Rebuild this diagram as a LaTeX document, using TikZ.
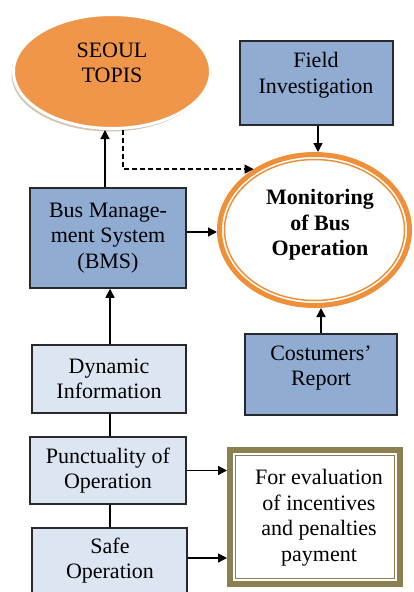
\documentclass[tikz,border=0pt]{standalone}
\usepackage{fontspec}
\setmainfont{Liberation Serif}
\usetikzlibrary{arrows.meta,shapes.geometric,shadows,calc}
\definecolor{orangeF}{RGB}{240,150,75}
\definecolor{orangeB}{RGB}{238,144,58}
\definecolor{blueF}{RGB}{144,172,210}
\definecolor{lblueF}{RGB}{220,230,242}
\definecolor{oliveB}{RGB}{140,128,80}
\definecolor{edge}{RGB}{40,40,45}
\tikzset{
  txt/.style={align=center,inner sep=0pt,font=\fontsize{22}{25.5}\selectfont},
  dbox/.style={draw=edge,line width=1.5pt,fill=blueF,inner sep=0pt},
  lbox/.style={draw=edge,line width=1.5pt,fill=lblueF,inner sep=0pt,align=center,font=\fontsize{22}{25.5}\selectfont},
  arr/.style={line width=1.4pt,draw=black,-{Triangle[length=9pt,width=9pt]}},
  ln/.style={line width=1.4pt,draw=black},
}
\begin{document}
\begin{tikzpicture}[x=1pt,y=-1pt]
\clip (0,0) rectangle (414,592);
\fill[white] (0,0) rectangle (414,592);
% SEOUL TOPIS
\node[ellipse,draw=white,line width=3pt,fill=orangeF,minimum width=197pt,minimum height=114pt,inner sep=0pt,
  drop shadow={shadow xshift=-2pt,shadow yshift=-3pt,opacity=0.35,fill=brown!70!black}] (seoul) at (112,71.5) {};
\node[txt] (seoultxt) at (112,63) {SEOUL\\TOPIS};
% Field investigation
\node[dbox,minimum width=153pt,minimum height=84pt] (field) at (316.5,83) {};
\node[txt] (fieldtxt) at (316,75) {Field\\Investigation};
% Monitoring
\node[ellipse,draw=orangeB,line width=5pt,fill=white,minimum width=190pt,minimum height=151pt,inner sep=0pt] (mon) at (314.5,230) {};
\node[ellipse,draw=orangeB,line width=1.5pt,minimum width=180pt,minimum height=141pt,inner sep=0pt] (monin) at (mon.center) {};
\node[txt,font=\fontsize{22}{25.5}\selectfont\bfseries] (montxt) at (320,225) {Monitoring\\of Bus\\Operation};
% BMS
\node[dbox,minimum width=156pt,minimum height=100pt,align=center,font=\fontsize{22}{25.5}\selectfont] (bms) at (108,238) {Bus Manage-\\ment System\\(BMS)};
% Dynamic information
\node[lbox,minimum width=154pt,minimum height=68pt] (dyn) at (109,379) {Dynamic\\Information};
% Costumers report
\node[dbox,minimum width=152pt,minimum height=81pt] (cost) at (321,374.5) {};
\node[txt] (costtxt) at (321,368) {Costumers'\\Report};
% Punctuality
\node[lbox,minimum width=156pt,minimum height=67pt] (punc) at (108,470.5) {Punctuality of\\Operation};
% Safe operation
\node[lbox,minimum width=155pt,minimum height=72pt] (safe) at (109.5,564) {};
\node[txt] (safetxt) at (110,560.5) {Safe\\Operation};
% Evaluation
\node[draw=oliveB,line width=6pt,fill=white,minimum width=170pt,minimum height=134pt,inner sep=0pt] (ev) at (315,517) {};
\draw[oliveB,line width=1.2pt] ($(ev.north west)+(8.5,8.5)$) rectangle ($(ev.south east)+(-8.5,-8.5)$);
\node[txt] (evtxt) at (319,517.5) {For evaluation\\of incentives\\and penalties\\payment};
% connectors
\draw[arr] ([xshift=-3pt]bms.north) -- ([xshift=-3pt]bms.north |- seoul.south);
\draw[arr,dash pattern=on 5pt off 3pt] ([xshift=11pt]seoul.south) |- (mon.135);
\draw[arr] ([xshift=1.5pt]field.south) -- ([xshift=1.5pt]field.south |- mon.north);
\draw[arr] ([yshift=6pt]bms.east) -- ([yshift=6pt]bms.east -| mon.west);
\draw[arr] ([xshift=1pt]dyn.north) -- ([xshift=1pt]dyn.north |- bms.south);
\draw[arr] (cost.north) -- (cost.north |- mon.south);
\draw[ln] ([xshift=1pt]dyn.south) -- ([xshift=1pt]dyn.south |- punc.north);
\draw[ln] ([xshift=2pt]punc.south) -- ([xshift=2pt]punc.south |- safe.north);
\draw[arr] (punc.east) -- (punc.east -| ev.west);
\draw[arr] ([yshift=6pt]safe.east) -- ([yshift=6pt]safe.east -| ev.west);
\end{tikzpicture}
\end{document}
